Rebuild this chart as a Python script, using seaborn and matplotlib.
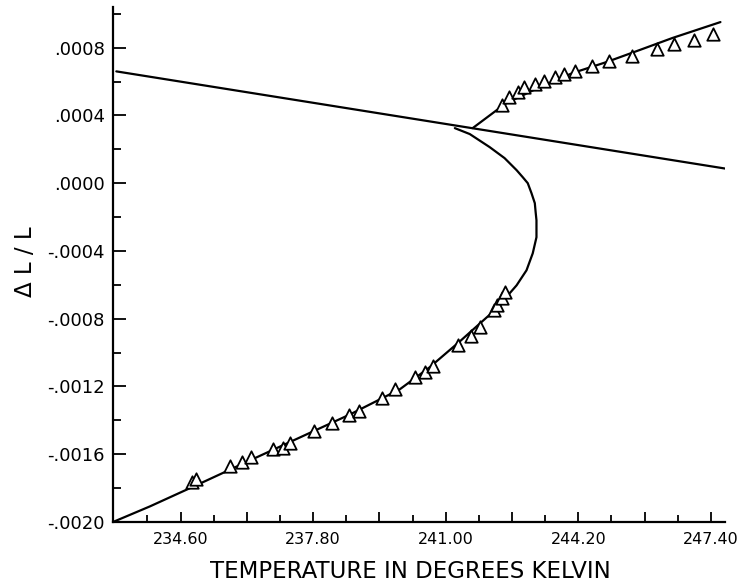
import matplotlib
matplotlib.use("Agg")
import matplotlib.pyplot as plt
import seaborn as sns

# Thermal expansion curve ΔL/L versus temperature (K)

# reference straight line across the whole range
line_T = [233.05, 247.83]
line_dl = [0.00066, 0.000083]

# upper (high-temperature) branch
upper_T = [241.65, 242.23, 242.47, 243.27, 244.06, 244.88, 245.68, 246.47, 247.63]
upper_dl = [0.000325, 0.000431, 0.000473, 0.000567, 0.000650, 0.000715, 0.000786, 0.000857, 0.000951]

# lower branch, folding back onto the straight line
lower_T = [232.97, 233.86, 235.07, 236.27, 237.48, 238.69, 239.89, 240.61, 241.34, 241.99,
           242.30, 242.50, 242.71, 242.95, 243.10, 243.19, 243.19, 243.17, 243.15, 243.07,
           242.98, 242.86, 242.71, 242.42, 242.06, 241.58, 241.22]
lower_dl = [-0.00200, -0.001908, -0.001773, -0.001637, -0.001501, -0.001365, -0.001217,
            -0.001087, -0.000934, -0.000792, -0.000727, -0.000662, -0.000603, -0.000514,
            -0.000414, -0.000319, -0.000219, -0.000171, -0.000118, -0.000059, 0.0, 0.000035,
            0.000077, 0.000148, 0.000213, 0.000290, 0.000325]

# measured points, low-temperature side
meas_low_T = [234.88, 234.97, 235.79, 236.08, 236.30, 236.83, 237.07, 237.24, 237.82, 238.25,
              238.66, 238.90, 239.46, 239.77, 240.25, 240.49, 240.69, 241.29, 241.60, 241.82,
              242.16, 242.23, 242.35, 242.43]
meas_low_dl = [-0.001761, -0.001749, -0.001672, -0.001643, -0.001619, -0.001572, -0.001566,
               -0.001536, -0.001465, -0.001418, -0.001371, -0.001347, -0.001270, -0.001217,
               -0.001146, -0.001117, -0.001081, -0.000957, -0.000904, -0.000851, -0.000750,
               -0.000721, -0.000680, -0.000644]

# measured points, high-temperature side
meas_high_T = [242.35, 242.52, 242.74, 242.90, 243.15, 243.36, 243.63, 243.85, 244.11, 244.54,
               244.95, 245.49, 246.09, 246.52, 247.00, 247.46]
meas_high_dl = [0.000461, 0.000508, 0.000538, 0.000567, 0.000585, 0.000603, 0.000626, 0.000644,
                0.000662, 0.000691, 0.000721, 0.000750, 0.000792, 0.000821, 0.000845, 0.000880]

x_major = [234.6, 236.2, 237.8, 239.4, 241.0, 242.6, 244.2, 245.8, 247.4]
x_major_labels = ["234.60", "", "237.80", "", "241.00", "", "244.20", "", "247.40"]
x_minor = [233.8, 235.4, 237.0, 238.6, 240.2, 241.8, 243.4, 245.0, 246.6]

y_major = [-0.0020, -0.0016, -0.0012, -0.0008, -0.0004, 0.0, 0.0004, 0.0008]
y_major_labels = ["-.0020", "-.0016", "-.0012", "-.0008", "-.0004", ".0000", ".0004", ".0008"]
y_minor = [-0.0018, -0.0014, -0.0010, -0.0006, -0.0002, 0.0002, 0.0006, 0.0010]

sns.set_theme(style="ticks")
plt.rcParams["font.family"] = ["DejaVu Sans"]

fig = plt.figure(figsize=(7.39, 5.84), dpi=100)
ax = fig.add_axes([113 / 739, 62 / 584, 612 / 739, 515 / 584])

lw = 1.6
sns.lineplot(x=line_T, y=line_dl, sort=False, estimator=None, color="black", lw=lw, ax=ax)
sns.lineplot(x=upper_T, y=upper_dl, sort=False, estimator=None, color="black", lw=lw, ax=ax)
sns.lineplot(x=lower_T, y=lower_dl, sort=False, estimator=None, color="black", lw=lw, ax=ax)

for xs, ys in [(meas_low_T, meas_low_dl), (meas_high_T, meas_high_dl)]:
    sns.scatterplot(x=xs, y=ys, marker="^", s=80, color="white", edgecolor="black",
                    linewidth=1.3, zorder=3, ax=ax)

ax.set_xlim(232.97, 247.74)
ax.set_ylim(-0.0020, 0.00104)

for side in ["top", "right"]:
    ax.spines[side].set_visible(False)
for side in ["left", "bottom"]:
    ax.spines[side].set_linewidth(1.6)
    ax.spines[side].set_color("black")

ax.set_xticks(x_major)
ax.set_xticklabels(x_major_labels)
ax.set_xticks(x_minor, minor=True)
ax.set_yticks(y_major)
ax.set_yticklabels(y_major_labels)
ax.set_yticks(y_minor, minor=True)

ax.tick_params(axis="x", which="major", direction="in", length=7.5, width=1.3,
               color="black", labelsize=11.5, pad=7, labelcolor="black")
ax.tick_params(axis="x", which="minor", direction="in", length=5, width=1.3, color="black")
ax.tick_params(axis="y", which="major", direction="in", length=9.5, width=1.3,
               color="black", labelsize=13, pad=6, labelcolor="black")
ax.tick_params(axis="y", which="minor", direction="in", length=5.5, width=1.3, color="black")

ax.set_xlabel("TEMPERATURE IN DEGREES KELVIN", fontsize=16.5, color="black", va="center")
ax.xaxis.set_label_coords((410 - 113) / 612, (584 - 572 - 62) / 515)
ax.set_ylabel("Δ L / L", fontsize=16.5, color="black", va="center")
ax.yaxis.set_label_coords((25 - 113) / 612, (584 - 262 - 62) / 515)

fig.savefig("out.png", dpi=100, facecolor="white")
